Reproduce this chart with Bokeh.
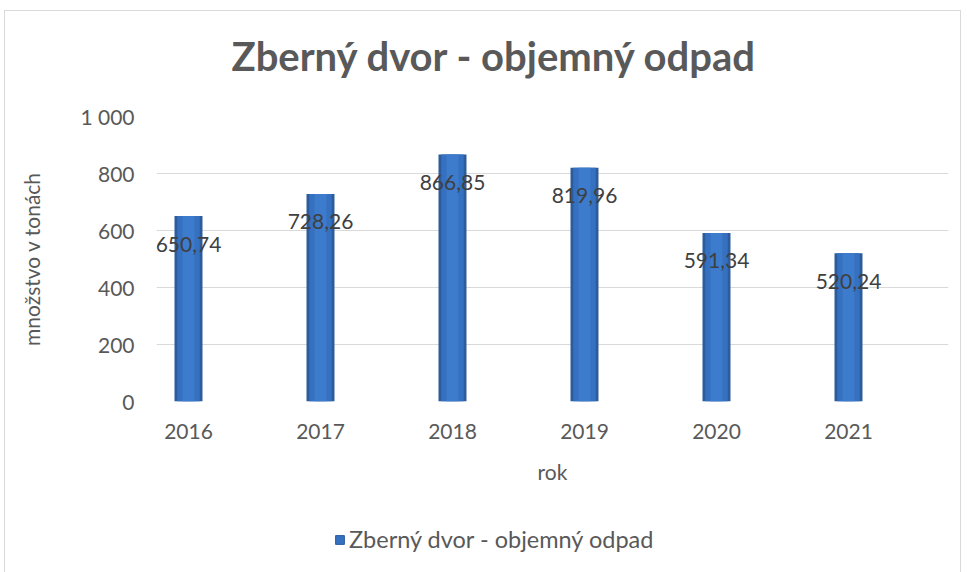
from bokeh.plotting import figure
from bokeh.layouts import column
from bokeh.models import (ColumnDataSource, Range1d, FixedTicker, Legend, LegendItem,
                          InlineStyleSheet)
from bokeh.core.properties import value
from bokeh.embed import file_html
from bokeh.resources import INLINE

# ---- data ----
years = ["2016", "2017", "2018", "2019", "2020", "2021"]
amounts = [650.74, 728.26, 866.85, 819.96, 591.34, 520.24]
y_ticks = [0, 200, 400, 600, 800, 1000]
y_tick_labels = ["0", "200", "400", "600", "800", "1 000"]
series_name = "Zberný dvor - objemný odpad"
title_text = "Zberný dvor - objemný odpad"

FONT = "Lato"
GREY = "#595959"

xs = list(range(len(years)))
src = ColumnDataSource(dict(
    x=xs,
    top=amounts,
    label=[f"{v:.2f}".replace(".", ",") for v in amounts],
))

border_css = InlineStyleSheet(css="""
:host::after {
  content: "";
  position: absolute;
  left: 4px; top: 10px; right: -2px; bottom: -12px;
  border: 1px solid #d9d9d9;
  pointer-events: none;
  z-index: 5;
}
""")

W = 959
p = figure(width=W, height=500, output_backend="svg", toolbar_location=None,
           x_range=Range1d(-0.2424, 5.7576), y_range=Range1d(0, 1000),
           min_border_left=156, min_border_right=11, min_border_top=116,
           min_border_bottom=99)
p.outline_line_color = None
p.background_fill_color = "white"
p.border_fill_color = "white"

# title
p.title.text = title_text
p.title.align = "left"
p.title.offset = 75
p.title.text_font = FONT
p.title.text_font_size = "40px"
p.title.text_font_style = "bold"
p.title.text_color = GREY
p.title.padding = (0, 0, 0, 8)
p.title.standoff = 58

# bars (layered to mimic the cylindrical shading)
p.vbar(x="x", top="top", bottom=0, width=0.212, source=src,
       fill_color="#2d5c9c", line_color=None)
p.vbar(x="x", top="top", bottom=0, width=0.17, source=src,
       fill_color="#3670c0", line_color=None)
p.vbar(x="x", top="top", bottom=0, width=0.09, source=src,
       fill_color="#3d7ccc", line_color=None)

# data labels
p.text(x="x", y="top", text="label", source=src, y_offset=28,
       text_align="center", text_baseline="middle", text_font=value(FONT),
       text_font_size="21px", text_color="#404040")

# axes
p.xaxis.ticker = FixedTicker(ticks=xs)
p.xaxis.major_label_overrides = {i: y for i, y in zip(xs, years)}
p.yaxis.ticker = FixedTicker(ticks=y_ticks)
p.yaxis.major_label_overrides = {t: l for t, l in zip(y_ticks, y_tick_labels)}
for ax in (p.xaxis[0], p.yaxis[0]):
    ax.axis_line_color = None
    ax.major_tick_line_color = None
    ax.minor_tick_line_color = None
    ax.major_label_text_font = FONT
    ax.major_label_text_font_size = "21px"
    ax.major_label_text_color = GREY
    ax.axis_label_text_font = FONT
    ax.axis_label_text_font_size = "21px"
    ax.axis_label_text_font_style = "normal"
    ax.axis_label_text_color = GREY
p.xaxis.axis_label = "rok"
p.yaxis.axis_label = "množstvo v tonách"
p.xaxis.major_label_standoff = 16
p.xaxis.axis_label_standoff = 17
p.yaxis.major_label_standoff = 16
p.yaxis.axis_label_standoff = 33

p.xgrid.grid_line_color = None
p.ygrid.grid_line_color = "#d9d9d9"
p.ygrid.grid_line_width = 1

# legend strip (separate figure below the chart, series kept out of view)
lf = figure(width=W, height=64, output_backend="svg", toolbar_location=None,
            x_range=Range1d(100, 101), y_range=Range1d(5000, 6000),
            min_border=0, min_border_left=0, min_border_right=0,
            min_border_top=0, min_border_bottom=0)
lf.axis.visible = False
lf.grid.visible = False
lf.outline_line_color = None
lf.background_fill_color = "white"
lf.border_fill_color = "white"
r_leg = lf.vbar(x="x", top="top", bottom=0, width=0.212, source=src,
                fill_color="#3670c0", line_color="#2d5c9c")
legend = Legend(items=[LegendItem(label=series_name, renderers=[r_leg])],
                location=(178, 11), orientation="horizontal",
                label_text_font=FONT, label_text_font_size="23.5px",
                label_text_color=GREY, glyph_width=11, glyph_height=11,
                label_height=20, label_standoff=4, padding=0, margin=0,
                border_line_color=None, background_fill_alpha=0)
lf.add_layout(legend, "center")

layout = column(p, lf, spacing=0, stylesheets=[border_css])

open("out.html", "w").write(file_html(layout, INLINE))
